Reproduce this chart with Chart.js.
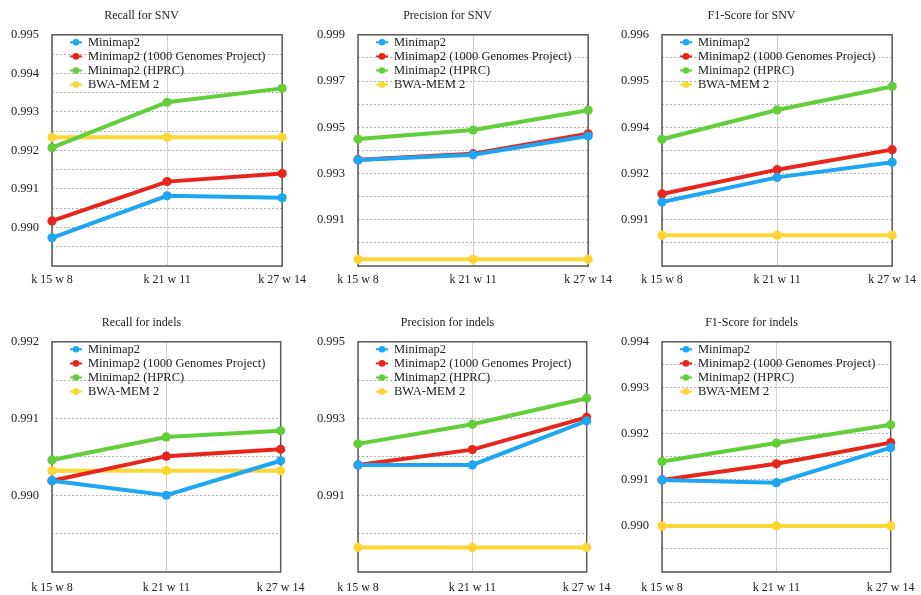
<!DOCTYPE html>
<html>
<head>
<meta charset="utf-8">
<script src="https://cdn.jsdelivr.net/npm/chart.js@4.4.1/dist/chart.umd.min.js"></script>
<style>
  html, body { margin: 0; padding: 0; background: #fff; width: 921px; height: 595px; overflow: hidden; position: relative; }
  canvas.panel { position: absolute; }
</style>
</head>
<body>
<canvas id="p0" class="panel" width="313" height="291" style="left:0px;top:0px"></canvas>
<canvas id="p1" class="panel" width="313" height="291" style="left:306px;top:0px"></canvas>
<canvas id="p2" class="panel" width="313" height="291" style="left:610px;top:0px"></canvas>
<canvas id="p3" class="panel" width="313" height="290" style="left:0px;top:307px"></canvas>
<canvas id="p4" class="panel" width="313" height="290" style="left:306px;top:307px"></canvas>
<canvas id="p5" class="panel" width="313" height="290" style="left:610px;top:307px"></canvas>
<script>
// Parameter settings on the x axis
const categories = ['k 15 w 8', 'k 21 w 11', 'k 27 w 14'];

// Aligners / reference graphs compared
const seriesNames = ['Minimap2', 'Minimap2 (1000 Genomes Project)', 'Minimap2 (HPRC)', 'BWA-MEM 2'];
const seriesColors = ['#1ea6f2', '#e8251b', '#62cf3a', '#fdd633'];

const panelTitles = [
  'Recall for SNV', 'Precision for SNV', 'F1-Score for SNV',
  'Recall for indels', 'Precision for indels', 'F1-Score for indels'
];

// Each panel: rows follow seriesNames order
const recallSnv = [
  [0.98973, 0.99082, 0.99077],
  [0.99017, 0.99119, 0.99140],
  [0.99207, 0.99325, 0.99361],
  [0.99234, 0.99234, 0.99234]
];
const precisionSnv = [
  [0.99358, 0.99381, 0.99462],
  [0.99360, 0.99386, 0.99472],
  [0.99449, 0.99488, 0.99574],
  [0.98929, 0.98929, 0.98929]
];
const f1Snv = [
  [0.99166, 0.99230, 0.99269],
  [0.99187, 0.99250, 0.99302],
  [0.99329, 0.99405, 0.99466],
  [0.99080, 0.99080, 0.99080]
];
const recallIndels = [
  [0.99019, 0.99000, 0.99045],
  [0.99019, 0.99051, 0.99060],
  [0.99046, 0.99076, 0.99084],
  [0.99032, 0.99032, 0.99032]
];
const precisionIndels = [
  [0.99179, 0.99179, 0.99294],
  [0.99179, 0.99219, 0.99303],
  [0.99234, 0.99285, 0.99353],
  [0.98964, 0.98964, 0.98964]
];
const f1Indels = [
  [0.99100, 0.99094, 0.99170],
  [0.99100, 0.99135, 0.99181],
  [0.99140, 0.99180, 0.99220],
  [0.99000, 0.99000, 0.99000]
];
const panelData = [recallSnv, precisionSnv, f1Snv, recallIndels, precisionIndels, f1Indels];

// y-axis bounds and grid step per panel (labels on every second grid line)
const axisMin  = [0.989, 0.989, 0.990, 0.989, 0.989, 0.989];
const axisMax  = [0.995, 0.999, 0.996, 0.992, 0.995, 0.994];
const axisStep = [0.0005, 0.001, 0.0006, 0.0005, 0.001, 0.0005];

const SERIF = '"Liberation Serif", "Times New Roman", Times, serif';
const TEXT = '#222';

// Dark frame around the plotting area
const framePlugin = {
  id: 'frame',
  beforeDatasetsDraw(chart) {
    const {ctx, chartArea: a} = chart;
    ctx.save();
    ctx.strokeStyle = '#5a5a5a';
    ctx.lineWidth = 1.5;
    ctx.strokeRect(a.left, a.top, a.right - a.left, a.bottom - a.top);
    ctx.restore();
  }
};

// Legend drawn inside the top-left corner of the plotting area
const insideLegend = {
  id: 'insideLegend',
  afterDatasetsDraw(chart) {
    const {ctx, chartArea: a} = chart;
    ctx.save();
    ctx.font = '12.5px ' + SERIF;
    ctx.textBaseline = 'middle';
    ctx.textAlign = 'left';
    chart.data.datasets.forEach((ds, i) => {
      const y = a.top + 7.5 + i * 14.1;
      const cx = a.left + 24;
      ctx.strokeStyle = ds.borderColor;
      ctx.lineWidth = 2;
      ctx.beginPath();
      ctx.moveTo(cx - 6, y);
      ctx.lineTo(cx + 6, y);
      ctx.stroke();
      ctx.fillStyle = ds.borderColor;
      ctx.beginPath();
      ctx.arc(cx, y, 3.3, 0, Math.PI * 2);
      ctx.fill();
      ctx.fillStyle = TEXT;
      ctx.fillText(ds.label, a.left + 36, y + 0.5);
    });
    ctx.restore();
  }
};

panelData.forEach((rows, p) => {
  const min = axisMin[p], max = axisMax[p], step = axisStep[p];
  const bottomRow = p >= 3;
  new Chart(document.getElementById('p' + p), {
    type: 'line',
    data: {
      labels: categories,
      datasets: rows.map((vals, s) => ({
        label: seriesNames[s],
        data: vals,
        borderColor: seriesColors[s],
        backgroundColor: seriesColors[s],
        borderWidth: 4,
        pointRadius: 4.6,
        pointBorderWidth: 0,
        pointBackgroundColor: seriesColors[s],
        tension: 0,
        clip: false
      }))
    },
    options: {
      responsive: false,
      animation: false,
      devicePixelRatio: 1,
      layout: { padding: { left: 0, right: 30, top: 0, bottom: 0 } },
      plugins: {
        legend: { display: false },
        tooltip: { enabled: false },
        title: {
          display: true,
          text: panelTitles[p],
          color: TEXT,
          font: { family: SERIF, size: 12, weight: 'normal', lineHeight: 1.2 },
          padding: { top: 8.6, bottom: 11.8 }
        }
      },
      scales: {
        x: {
          type: 'category',
          offset: false,
          grid: { color: '#cfcfcf', lineWidth: 1, drawTicks: false },
          border: { display: false },
          ticks: {
            color: TEXT,
            font: { family: SERIF, size: 12 },
            padding: bottomRow ? 8.5 : 7,
            maxRotation: 0,
            autoSkip: false
          },
          afterFit(scale) { scale.height = 25; }
        },
        y: {
          min: min,
          max: max,
          grid: { color: '#b3b3b3', lineWidth: 1, drawTicks: false },
          border: { display: false, dash: [2, 2] },
          ticks: {
            color: TEXT,
            font: { family: SERIF, size: 12.5 },
            padding: 13,
            callback(value, index, ticks) {
              const fromTop = ticks.length - 1 - index;
              return (index > 0 && fromTop % 2 === 0) ? Number(value).toFixed(3) : '';
            }
          },
          afterBuildTicks(scale) {
            const n = Math.round((max - min) / step);
            scale.ticks = Array.from({length: n + 1}, (_, i) => ({ value: +(min + i * step).toFixed(6) }));
          },
          afterFit(scale) { scale.width = 52; }
        }
      }
    },
    plugins: [framePlugin, insideLegend]
  });
});
</script>
</body>
</html>
